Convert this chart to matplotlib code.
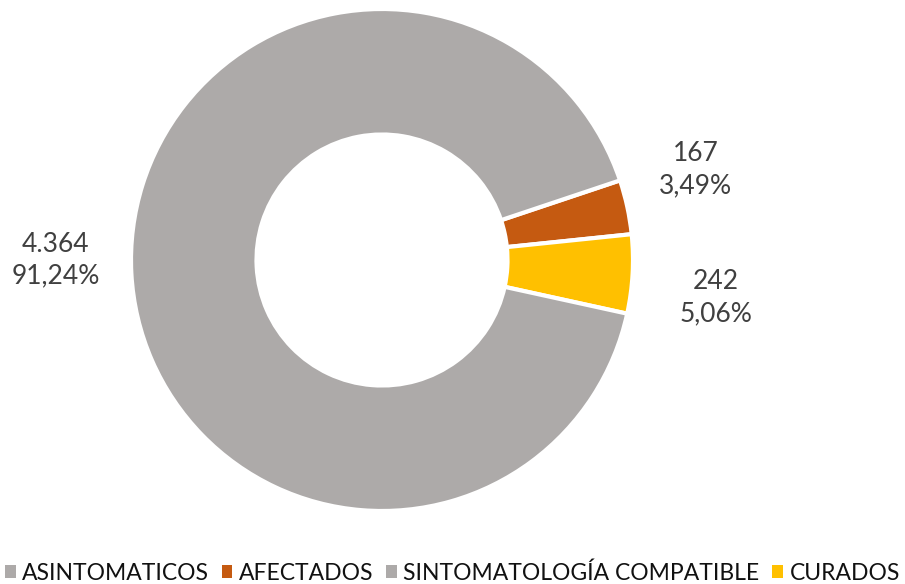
import matplotlib.pyplot as plt
from matplotlib.patches import Patch

# === data ===
categories = ["ASINTOMATICOS", "AFECTADOS", "SINTOMATOLOGÍA COMPATIBLE", "CURADOS"]
values = [0, 167, 4364, 242]
value_labels = ["", "167", "4.364", "242"]
pct_labels = ["", "3,49%", "91,24%", "5,06%"]
colors = ["#ADAAA9", "#C55A11", "#ADAAA9", "#FFC000"]

# drawing order clockwise from the start angle
order = [1, 3, 2]

plt.rcParams['font.family'] = ['Lato', 'DejaVu Sans']

W, H = 905, 584
fig = plt.figure(figsize=(W / 100, H / 100), dpi=100)
cx, cy, R = 382, 260, 251
ax = fig.add_axes([(cx - R) / W, (H - cy - R) / H, 2 * R / W, 2 * R / H])

ax.pie([values[i] for i in order], colors=[colors[i] for i in order],
       startangle=18.5, counterclock=False, radius=1,
       wedgeprops=dict(width=0.5, edgecolor="white", linewidth=3))
ax.set_xlim(-1, 1)
ax.set_ylim(-1, 1)
ax.set_aspect("equal")
ax.axis("off")

# label positions (data coords) next to each slice
label_pos = {1: (1.25, 0.36), 3: (1.33, -0.15), 2: (-1.30, 0.0)}
for i, (x, y) in label_pos.items():
    ax.text(x, y, value_labels[i] + "\n" + pct_labels[i], ha="center", va="center",
            fontsize=19, color="#404040", linespacing=1.35, clip_on=False)

handles = [Patch(facecolor=c, edgecolor="none") for c in colors]
fig.legend(handles, categories, loc="center", bbox_to_anchor=(0.5, 1 - 573 / H),
           ncol=4, frameon=False, fontsize=16.5, handlelength=0.45, handleheight=0.45,
           handletextpad=0.3, columnspacing=0.55, labelcolor="#111111")

fig.savefig("out.png", dpi=100)
